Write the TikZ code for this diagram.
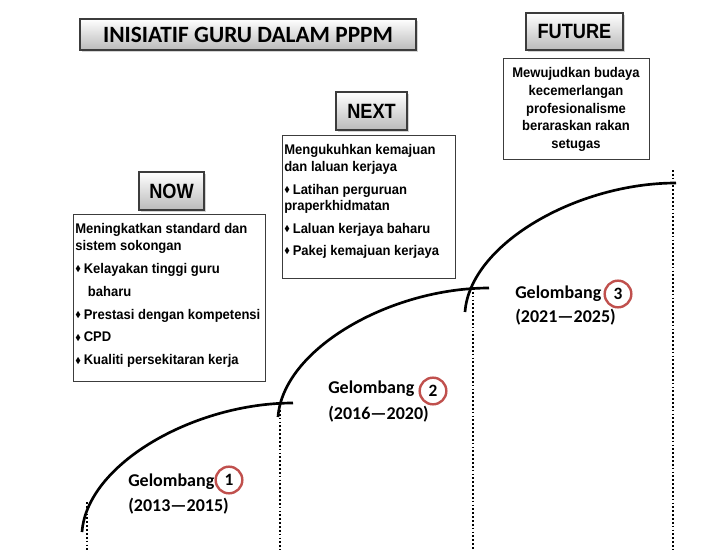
\documentclass[tikz,border=0pt]{standalone}
\usepackage{fontspec}
\usepackage{amssymb}
\setmainfont{Liberation Sans}
\newfontfamily\calfont{Carlito}
\newfontfamily\boxfont[FakeStretch=0.93]{Liberation Sans}
\newfontfamily\headfont[FakeStretch=0.88]{Liberation Sans}
\usetikzlibrary{shadows,positioning}
\definecolor{circred}{RGB}{192,80,77}
\definecolor{framegray}{RGB}{60,60,60}
\tikzstyle{headbox}=[draw=framegray, line width=0.8pt, top color=white, bottom color=black!27,
  drop shadow={shadow xshift=1.2pt, shadow yshift=-1.2pt, opacity=0.35}, inner sep=0pt]
\tikzstyle{headtext}=[headbox, font=\headfont\bfseries\fontsize{15.5}{17}\selectfont, minimum height=28.5pt]
\tikzstyle{textbox}=[draw=framegray, line width=0.7pt, anchor=north west, inner sep=0pt]
\tikzstyle{boxtext}=[font=\boxfont\bfseries\fontsize{10.5}{12.6}\selectfont, align=left, inner sep=0pt, anchor=north west]
\tikzstyle{wave}=[line width=2pt]
\tikzstyle{dotline}=[line width=1.3pt, dash pattern=on 1.3pt off 1.6pt]
\tikzstyle{gel}=[font=\calfont\bfseries\fontsize{13.5}{16}\selectfont, anchor=base west, inner sep=0pt]
\tikzstyle{numcirc}=[circle, draw=circred, line width=1.8pt, minimum size=20pt, inner sep=0pt,
  font=\calfont\bfseries\fontsize{13}{14}\selectfont]
\newcommand{\bul}{\raisebox{0.25ex}{\scalebox{0.6}{$\blacklozenge$}}\hspace{2.2pt}}

\begin{document}
\begin{tikzpicture}[x=0.75pt, y=-0.75pt]
    \useasboundingbox (0,0) rectangle (718,550);

    % title and the three headings
    \node[headbox, minimum width=252pt, minimum height=23.25pt,
          font=\calfont\bfseries\fontsize{17.5}{19}\selectfont] (title) at (248,34.5) {INISIATIF GURU DALAM PPPM};
    \node[headtext, minimum width=48.75pt] (now) at (171.5,191) {NOW};
    \node[headtext, minimum width=53.25pt] (next) at (371.5,111) {NEXT};
    \node[headtext, minimum width=72.75pt, minimum height=27.75pt] (future) at (574.5,31.5) {FUTURE};

    % text boxes
    \node[textbox, minimum width=144pt, minimum height=125.25pt] (nowbox) at (73,214) {};
    \node[textbox, minimum width=129.75pt, minimum height=107.25pt] (nextbox) at (282,135) {};
    \node[textbox, minimum width=109.5pt, minimum height=75.75pt] (futbox) at (503,58) {};

    \node[boxtext] (nowtxt) at (75,223) {Meningkatkan standard dan\\
      sistem sokongan\\[4.6pt]
      \bul Kelayakan tinggi guru\\[4.6pt]
      \hspace*{9.5pt}baharu\\[4.6pt]
      \bul Prestasi dengan kompetensi\\[4.6pt]
      \bul CPD\\[4.6pt]
      \bul Kualiti persekitaran kerja};
    \node[boxtext] (nexttxt) at (284,144) {Mengukuhkan kemajuan\\
      dan laluan kerjaya\\[4.5pt]
      \bul Latihan perguruan\\
      praperkhidmatan\\[4.6pt]
      \bul Laluan kerjaya baharu\\[3.8pt]
      \bul Pakej kemajuan kerjaya};
    \node[boxtext, align=center, anchor=center, font=\boxfont\bfseries\fontsize{10.5}{13.3}\selectfont]
      (futtxt) at (576,109.5) {Mewujudkan budaya\\ kecemerlangan\\ profesionalisme\\ beraraskan rakan\\ setugas};

    % the three waves
    \foreach \sx/\sy in {82/532, 278/417, 465/312}{
      \draw[wave] (\sx,\sy) .. controls (\sx+5,\sy-68) and (\sx+112,\sy-129) .. (\sx+211,\sy-129);
    }
    % dotted lines down to the bottom
    \foreach \dx/\dy in {87/502, 280/410, 473/288, 673/170}{
      \draw[dotline] (\dx,\dy) -- (\dx,550);
    }

    % wave labels
    \node[gel] (gel1) at (128,486) {Gelombang};
    \node[gel] (yr1) at (128,511) {(2013—2015)};
    \node[numcirc] (c1) at (229,480) {1};
    \node[gel] (gel2) at (328,393) {Gelombang};
    \node[gel] (yr2) at (328,419) {(2016—2020)};
    \node[numcirc] (c2) at (433,391) {2};
    \node[gel] (gel3) at (515,298) {Gelombang};
    \node[gel] (yr3) at (515,322) {(2021—2025)};
    \node[numcirc] (c3) at (618,294) {3};
\end{tikzpicture}
\end{document}
